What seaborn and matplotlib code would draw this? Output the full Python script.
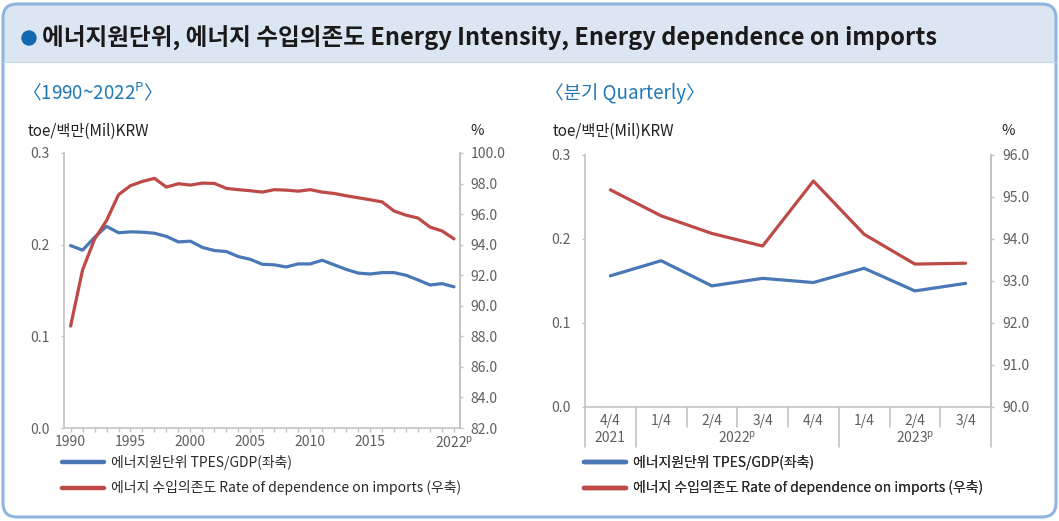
import matplotlib
matplotlib.use("Agg")
import matplotlib.pyplot as plt
import matplotlib.patches as mpatches
import matplotlib.transforms as mtransforms
import pandas as pd
import seaborn as sns

# annual data 1990~2022p
years = list(range(1990, 2023))
intensity_annual = [0.199, 0.194, 0.208, 0.220, 0.213, 0.214, 0.2136, 0.2125, 0.209, 0.203,
                    0.2038, 0.197, 0.1936, 0.1925, 0.187, 0.184, 0.1786, 0.178, 0.1757, 0.179,
                    0.179, 0.183, 0.178, 0.173, 0.169, 0.168, 0.1695, 0.1695, 0.1666, 0.1615,
                    0.156, 0.1575, 0.154]
imports_annual = [88.67, 92.35, 94.36, 95.58, 97.27, 97.86, 98.14, 98.34, 97.77, 97.99,
                  97.90, 98.03, 98.01, 97.68, 97.60, 97.53, 97.44, 97.60, 97.57, 97.50,
                  97.60, 97.44, 97.35, 97.20, 97.07, 96.94, 96.80, 96.20, 95.93, 95.74,
                  95.15, 94.90, 94.38]
year_ticklabels = {1990: "1990", 1995: "1995", 2000: "2000", 2005: "2005",
                   2010: "2010", 2015: "2015", 2022: r"2022$^\mathregular{p}$"}

# quarterly data
quarters = ["4/4", "1/4", "2/4", "3/4", "4/4", "1/4", "2/4", "3/4"]
quarter_groups = [("2021", 0, 0), (r"2022$^\mathregular{p}$", 1, 4), (r"2023$^\mathregular{p}$", 5, 7)]
intensity_quarterly = [0.156, 0.174, 0.144, 0.153, 0.148, 0.165, 0.138, 0.147]
imports_quarterly = [95.17, 94.55, 94.13, 93.83, 95.38, 94.11, 93.40, 93.42]

label_intensity = "에너지원단위 TPES/GDP(좌축)"
label_imports = "에너지 수입의존도 Rate of dependence on imports (우축)"

BLUE = "#4a78b6"
RED = "#be4a47"
GRID = "#c3c3c3"
TICK = "#5f5f5f"

sns.set_theme(style="white")
plt.rcParams['font.family'] = ['Noto Sans CJK KR', 'DejaVu Sans']
plt.rcParams['axes.unicode_minus'] = False

W, H = 1059, 521
fig = plt.figure(figsize=(W / 100, H / 100), dpi=100)

# background frame in pixel coordinates
bg = fig.add_axes([0, 0, 1, 1], zorder=-5)
bg.set_xlim(0, W)
bg.set_ylim(H, 0)
bg.axis("off")
bg.add_patch(mpatches.FancyBboxPatch((3, 4), W - 6, H - 8, boxstyle="round,pad=0,rounding_size=14",
                                     fc="white", ec="none"))
bg.add_patch(mpatches.FancyBboxPatch((3, 4), W - 6, 50, boxstyle="round,pad=0,rounding_size=14",
                                     fc="#dce6f2", ec="none"))
bg.add_patch(mpatches.Rectangle((3, 30), W - 6, 32, fc="#dce6f2", ec="none"))
bg.plot([3, W - 3], [62, 62], color="#c9d8ea", lw=0.8)
bg.add_patch(mpatches.FancyBboxPatch((3, 4), W - 6, H - 8, boxstyle="round,pad=0,rounding_size=14",
                                     fc="none", ec="#8fb4de", lw=2.2))
bg.add_patch(mpatches.Circle((29, 38), 7, color="#1468b0"))
bg.text(42, 38, "에너지원단위, 에너지 수입의존도 Energy Intensity, Energy dependence on imports",
        fontsize=17, fontweight="bold", color="#1a1a1a", va="center", ha="left")
bg.text(22, 93, "〈1990~2022$^\\mathregular{P}$〉", fontsize=13.5, color="#1f78b8", va="center", ha="left")
bg.text(545, 93, "〈분기 Quarterly〉", fontsize=13.5, color="#1f78b8", va="center", ha="left")

bg.text(28, 131, "toe/백만(Mil)KRW", fontsize=11, color="#222222", va="center", ha="left")
bg.text(470, 131, "%", fontsize=10.5, color="#222222", va="center", ha="left")
bg.text(553, 131, "toe/백만(Mil)KRW", fontsize=11, color="#222222", va="center", ha="left")
bg.text(1001, 131, "%", fontsize=10.5, color="#222222", va="center", ha="left")


def style_axes(ax, left_pad):
    ax.spines["top"].set_visible(False)
    for side in ["left", "right", "bottom"]:
        ax.spines[side].set_color(GRID)
        ax.spines[side].set_linewidth(1.2)
    ax.tick_params(axis="y", direction="out", length=2.5, width=1, color=GRID,
                   labelsize=10, labelcolor=TICK, left=True, pad=left_pad)
    ax.set_xlabel("")
    ax.set_ylabel("")
    ax.patch.set_alpha(0)


# ---------- annual chart ----------
annual = pd.DataFrame({"year": years, "intensity": intensity_annual, "imports": imports_annual})

ax1 = fig.add_axes([64 / W, 1 - 428 / H, 396 / W, 275 / H])
sns.lineplot(data=annual, x="year", y="intensity", ax=ax1, color=BLUE, lw=2.3, legend=False)
ax1r = ax1.twinx()
sns.lineplot(data=annual, x="year", y="imports", ax=ax1r, color=RED, lw=2.3, legend=False)

ax1.set_xlim(1989.45, 2022.5)
ax1.set_ylim(0, 0.3)
ax1.set_yticks([0, 0.1, 0.2, 0.3])
ax1.set_yticklabels(["0.0", "0.1", "0.2", "0.3"])
ax1r.set_ylim(82, 100)
ax1r.set_yticks(range(82, 101, 2))
ax1r.set_yticklabels([f"{v:.1f}" for v in range(82, 101, 2)])
ax1.set_xticks(years)
ax1.set_xticklabels([year_ticklabels.get(y, "") for y in years])
style_axes(ax1, 8)
style_axes(ax1r, 5)
ax1r.spines["left"].set_visible(False)
ax1r.spines["bottom"].set_visible(False)
ax1r.tick_params(axis="y", right=True, left=False, pad=5)
ax1.tick_params(axis="x", direction="out", length=3, width=1, color=GRID, bottom=True,
                labelsize=10, labelcolor=TICK, pad=2)

# ---------- quarterly chart ----------
quarterly = pd.DataFrame({"pos": range(len(quarters)), "intensity": intensity_quarterly,
                          "imports": imports_quarterly})

ax2 = fig.add_axes([585 / W, 1 - 406.7 / H, 406 / W, 251.7 / H])
sns.lineplot(data=quarterly, x="pos", y="intensity", ax=ax2, color=BLUE, lw=2.3, legend=False)
ax2r = ax2.twinx()
sns.lineplot(data=quarterly, x="pos", y="imports", ax=ax2r, color=RED, lw=2.3, legend=False)

ax2.set_xlim(-0.5, len(quarters) - 0.5)
ax2.set_ylim(0, 0.3)
ax2.set_yticks([0, 0.1, 0.2, 0.3])
ax2.set_yticklabels(["0.0", "0.1", "0.2", "0.3"])
ax2r.set_ylim(90, 96)
ax2r.set_yticks(range(90, 97))
ax2r.set_yticklabels([f"{v:.1f}" for v in range(90, 97)])
ax2.set_xticks(range(len(quarters)))
ax2.set_xticklabels(quarters)
style_axes(ax2, 8)
style_axes(ax2r, 6)
ax2r.spines["left"].set_visible(False)
ax2r.spines["bottom"].set_visible(False)
ax2r.tick_params(axis="y", right=True, left=False, pad=6)
ax2.tick_params(axis="x", length=0, labelsize=10, labelcolor=TICK, pad=5)

# category separators below the axis
trans = mtransforms.blended_transform_factory(ax2.transData, ax2.transAxes)
long_edges = {-0.5, 0.5, 4.5, len(quarters) - 0.5}
for i in range(len(quarters) + 1):
    xb = i - 0.5
    depth = -40 / 251.7 if xb in long_edges else -20 / 251.7
    ax2.plot([xb, xb], [0, depth], transform=trans, color=GRID, lw=1.2, clip_on=False)
for name, a, b in quarter_groups:
    ax2.text((a + b) / 2, -31 / 251.7, name, transform=trans, ha="center", va="center",
             fontsize=10, color=TICK)

# legends
for x0 in (62, 584):
    leg = bg.legend([plt.Line2D([], [], color=BLUE, lw=3.2), plt.Line2D([], [], color=RED, lw=3.2)],
                    [label_intensity, label_imports], loc="upper left",
                    bbox_to_anchor=(x0, 455), bbox_transform=bg.transData, frameon=False,
                    fontsize=10, handlelength=3.0, handletextpad=0.55, labelspacing=0.75,
                    borderpad=0, borderaxespad=0)
    for t in leg.get_texts():
        t.set_color("#2a2a2a")
    bg.add_artist(leg)

fig.savefig("out.png", dpi=100)
